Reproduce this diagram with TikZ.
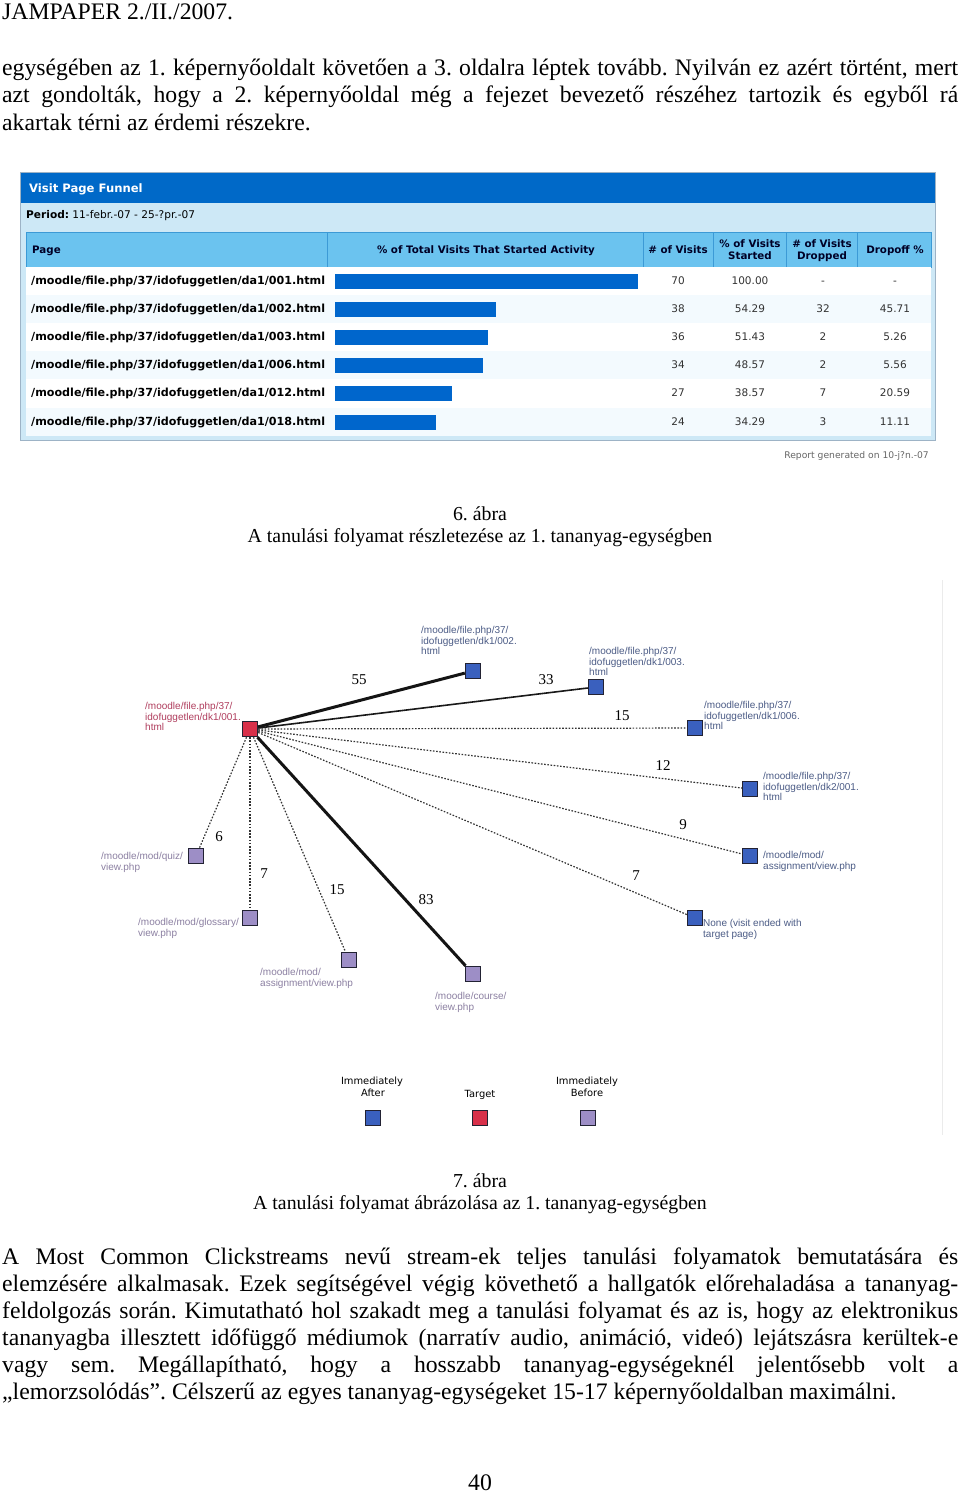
\documentclass[tikz,border=0pt]{standalone}
\usepackage{fontspec}
\setmainfont{Liberation Serif}
\newfontfamily\vfont{DejaVu Sans}
\newfontfamily\afont{Liberation Sans}
\frenchspacing
\definecolor{hdrblue}{HTML}{0069C8}
\definecolor{lightblue}{HTML}{CDE8F6}
\definecolor{colhdr}{HTML}{6BC3EF}
\definecolor{colsep}{HTML}{3C9AD6}
\definecolor{barblue}{HTML}{0066CC}
\definecolor{rowalt}{HTML}{F3FAFE}
\definecolor{frame}{HTML}{9DB3C6}
\definecolor{nblue}{HTML}{3A60BE}
\definecolor{nred}{HTML}{D8304A}
\definecolor{npurple}{HTML}{9D8EC6}
\definecolor{nborder}{HTML}{222233}
\definecolor{lred}{HTML}{B03E5E}
\definecolor{lblue}{HTML}{4C5C86}
\definecolor{lpurple}{HTML}{8C80A2}
\definecolor{tnum}{HTML}{333333}
\tikzset{
  body/.style={anchor=base west, inner sep=0, font=\fontsize{23.7}{27}\selectfont},
  capt/.style={anchor=base, inner sep=0, font=\fontsize{19.8}{23}\selectfont},
  tpage/.style={anchor=base west, inner sep=0, font=\vfont\bfseries\fontsize{11.15}{11}\selectfont},
  tnumst/.style={anchor=base, inner sep=0, text=tnum, font=\vfont\fontsize{10.5}{10.5}\selectfont},
  thead/.style={anchor=base, inner sep=0, text=black!85!blue, font=\vfont\bfseries\fontsize{10.3}{10}\selectfont},
  sqbase/.style={minimum size=15.5pt, inner sep=0, draw=nborder, line width=0.9pt},
  bsq/.style={sqbase, fill=nblue},
  rsq/.style={sqbase, fill=nred},
  psq/.style={sqbase, fill=npurple},
  glab/.style={anchor=base west, inner sep=0, font=\afont\fontsize{10}{10}\selectfont},
  elab/.style={inner sep=0, font=\fontsize{15}{15}\selectfont},
  leg/.style={anchor=base, inner sep=0, font=\vfont\fontsize{9.9}{9}\selectfont},
  thickedge/.style={line width=3pt, black!92},
  medge/.style={line width=1.6pt, black!90},
  dotedge/.style={line width=1.2pt, black!80, dash pattern=on 1.6pt off 1.6pt},
}
\newcommand\jline[3]{\node[body] (#1) at (2,#2) {\makebox[956pt][s]{#3}};}
\newcommand\trow[7]{%
  \fill[barblue] (335,#1-7.5) rectangle (#2,#1+7.5);
  \node[tpage] at (31,#1+3.8) {/moodle/file.php/37/idofuggetlen/da1/#3.html};
  \node[tnumst] at (678,#1+3.8) {#4};
  \node[tnumst] at (750,#1+3.8) {#5};
  \node[tnumst] at (823,#1+3.8) {#6};
  \node[tnumst] at (895,#1+3.8) {#7};
}
\begin{document}
\begin{tikzpicture}[x=1pt,y=-1pt]
\useasboundingbox (0,0) rectangle (960,1493);
\fill[white] (0,0) rectangle (960,1493);

% header and top text
\node[body] (hdr) at (2,20) {JAMPAPER 2./II./2007.};
\jline{t1}{76}{egységében az 1. képernyőoldalt követően a 3. oldalra léptek tovább. Nyilván ez azért történt, mert}
\jline{t2}{103}{azt gondolták, hogy a 2. képernyőoldal még a fejezet bevezető részéhez tartozik és egyből rá}
\node[body] (t3) at (2,131) {akartak térni az érdemi részekre.};

% ---------- table screenshot ----------
\fill[frame] (20,172) rectangle (936,441);
\fill[hdrblue] (21,173) rectangle (935,203);
\fill[lightblue] (21,203) rectangle (935,440);
\node[anchor=base west, inner sep=0, text=white, font=\vfont\bfseries\fontsize{11.6}{11.6}\selectfont] (ttitle) at (29,192) {Visit Page Funnel};
\node[anchor=base west, inner sep=0, font=\vfont\fontsize{10.6}{10}\selectfont] (tperiod) at (26,218) {\textbf{Period:} 11-febr.-07 - 25-?pr.-07};
\fill[colhdr] (26,232) rectangle (931,267);
\draw[colsep, line width=0.8pt] (26,232) rectangle (931,267);
\foreach \xx in {327,643,713,786,857} {\draw[colsep, line width=0.8pt] (\xx,232) -- (\xx,267);}
\node[thead, anchor=base west] (hp) at (32,253) {Page};
\node[thead] (h1) at (486,253) {\% of Total Visits That Started Activity};
\node[thead] (h2) at (678,253) {\# of Visits};
\node[thead] (h3a) at (750,247) {\% of Visits};
\node[thead] (h3b) at (750,259) {Started};
\node[thead] (h4a) at (822,247) {\# of Visits};
\node[thead] (h4b) at (822,259) {Dropped};
\node[thead] (h5) at (895,253) {Dropoff \%};
% rows
\fill[white] (26,267) rectangle (931,436);
\fill[rowalt] (26,295) rectangle (931,323);
\fill[rowalt] (26,351) rectangle (931,379);
\fill[rowalt] (26,408) rectangle (931,436);
\trow{281}{638}{001}{70}{100.00}{-}{-}
\trow{309}{496}{002}{38}{54.29}{32}{45.71}
\trow{337}{488}{003}{36}{51.43}{2}{5.26}
\trow{365}{483}{006}{34}{48.57}{2}{5.56}
\trow{393}{452}{012}{27}{38.57}{7}{20.59}
\trow{422}{436}{018}{24}{34.29}{3}{11.11}
\node[anchor=base east, inner sep=0, text=black!60, font=\vfont\fontsize{9.2}{9}\selectfont] (report) at (929,458) {Report generated on 10-j?n.-07};

% captions
\node[capt] (c6a) at (480,520) {6. ábra};
\node[capt] (c6b) at (480,542) {A tanulási folyamat részletezése az 1. tananyag-egységben};

% ---------- graph ----------
\draw[black!8, line width=1pt] (942,580) -- (942,1135);
\node[rsq] (t) at (250,729) {};
\node[bsq] (n002) at (473,671) {};
\node[bsq] (n003) at (596,687) {};
\node[bsq] (n006) at (695,728) {};
\node[bsq] (n2001) at (750,789) {};
\node[bsq] (nasgb) at (750,856) {};
\node[bsq] (nnone) at (695,918) {};
\node[psq] (nquiz) at (196,856) {};
\node[psq] (nglos) at (250,918) {};
\node[psq] (nasgp) at (349,960) {};
\node[psq] (ncourse) at (473,974) {};

\draw[thickedge] (t) -- (n002);
\draw[medge] (t) -- (n003);
\draw[dotedge] (t) -- (n006);
\draw[dotedge] (t) -- (n2001);
\draw[dotedge] (t) -- (nasgb);
\draw[dotedge] (t) -- (nnone);
\draw[dotedge] (t) -- (nquiz);
\draw[dotedge] (t) -- (nglos);
\draw[dotedge] (t) -- (nasgp);
\draw[thickedge] (t) -- (ncourse);

\node[elab] (e55) at (359,680) {55};
\node[elab] (e33) at (546,680) {33};
\node[elab] (e15a) at (622,716) {15};
\node[elab] (e12) at (663,766) {12};
\node[elab] (e9) at (683,825) {9};
\node[elab] (e7a) at (636,876) {7};
\node[elab] (e6) at (219,837) {6};
\node[elab] (e7b) at (264,874) {7};
\node[elab] (e15b) at (337,890) {15};
\node[elab] (e83) at (426,900) {83};

% node labels
\node[glab, text=lred] (lt1) at (145,709.5) {/moodle/file.php/37/};
\node[glab, text=lred] (lt2) at (145,720) {idofuggetlen/dk1/001.};
\node[glab, text=lred] (lt3) at (145,730.5) {html};
\node[glab, text=lblue] (la1) at (421,633.5) {/moodle/file.php/37/};
\node[glab, text=lblue] (la2) at (421,644) {idofuggetlen/dk1/002.};
\node[glab, text=lblue] (la3) at (421,654.5) {html};
\node[glab, text=lblue] (lb1) at (589,654.5) {/moodle/file.php/37/};
\node[glab, text=lblue] (lb2) at (589,665) {idofuggetlen/dk1/003.};
\node[glab, text=lblue] (lb3) at (589,675.5) {html};
\node[glab, text=lblue] (lc1) at (704,708.5) {/moodle/file.php/37/};
\node[glab, text=lblue] (lc2) at (704,719) {idofuggetlen/dk1/006.};
\node[glab, text=lblue] (lc3) at (704,729.5) {html};
\node[glab, text=lblue] (ld1) at (763,779.5) {/moodle/file.php/37/};
\node[glab, text=lblue] (ld2) at (763,790) {idofuggetlen/dk2/001.};
\node[glab, text=lblue] (ld3) at (763,800.5) {html};
\node[glab, text=lblue] (le1) at (763,858.5) {/moodle/mod/};
\node[glab, text=lblue] (le2) at (763,869) {assignment/view.php};
\node[glab, text=lblue] (lf1) at (703,926.5) {None (visit ended with};
\node[glab, text=lblue] (lf2) at (703,937) {target page)};
\node[glab, text=lpurple] (lg1) at (101,859.5) {/moodle/mod/quiz/};
\node[glab, text=lpurple] (lg2) at (101,870) {view.php};
\node[glab, text=lpurple] (lh1) at (138,925.5) {/moodle/mod/glossary/};
\node[glab, text=lpurple] (lh2) at (138,936) {view.php};
\node[glab, text=lpurple] (li1) at (260,975.5) {/moodle/mod/};
\node[glab, text=lpurple] (li2) at (260,986) {assignment/view.php};
\node[glab, text=lpurple] (lj1) at (435,999.5) {/moodle/course/};
\node[glab, text=lpurple] (lj2) at (435,1010) {view.php};

% legend
\node[leg] (lga1) at (372,1084.5) {Immediately};
\node[leg] (lga2) at (373,1096.5) {After};
\node[leg] (lgt) at (480,1097) {Target};
\node[leg] (lgb1) at (587,1084.5) {Immediately};
\node[leg] (lgb2) at (587,1096.5) {Before};
\node[bsq] (sqa) at (373,1118) {};
\node[rsq] (sqt) at (480,1118) {};
\node[psq] (sqb) at (588,1118) {};

\node[capt] (c7a) at (480,1187) {7. ábra};
\node[capt] (c7b) at (480,1209) {A tanulási folyamat ábrázolása az 1. tananyag-egységben};

% bottom paragraph
\jline{b1}{1264}{A Most Common Clickstreams nevű stream-ek teljes tanulási folyamatok bemutatására és}
\jline{b2}{1291}{elemzésére alkalmasak. Ezek segítségével végig követhető a hallgatók előrehaladása a tananyag-}
\jline{b3}{1318}{feldolgozás során. Kimutatható hol szakadt meg a tanulási folyamat és az is, hogy az elektronikus}
\jline{b4}{1345}{tananyagba illesztett időfüggő médiumok (narratív audio, animáció, videó) lejátszásra kerültek-e}
\jline{b5}{1372}{vagy sem. Megállapítható, hogy a hosszabb tananyag-egységeknél jelentősebb volt a}
\node[body] (b6) at (2,1399) {„lemorzsolódás”. Célszerű az egyes tananyag-egységeket 15-17 képernyőoldalban maximálni.};

\node[anchor=base, inner sep=0, font=\fontsize{23.7}{27}\selectfont] (pnum) at (480,1490.5) {40};
\end{tikzpicture}
\end{document}
